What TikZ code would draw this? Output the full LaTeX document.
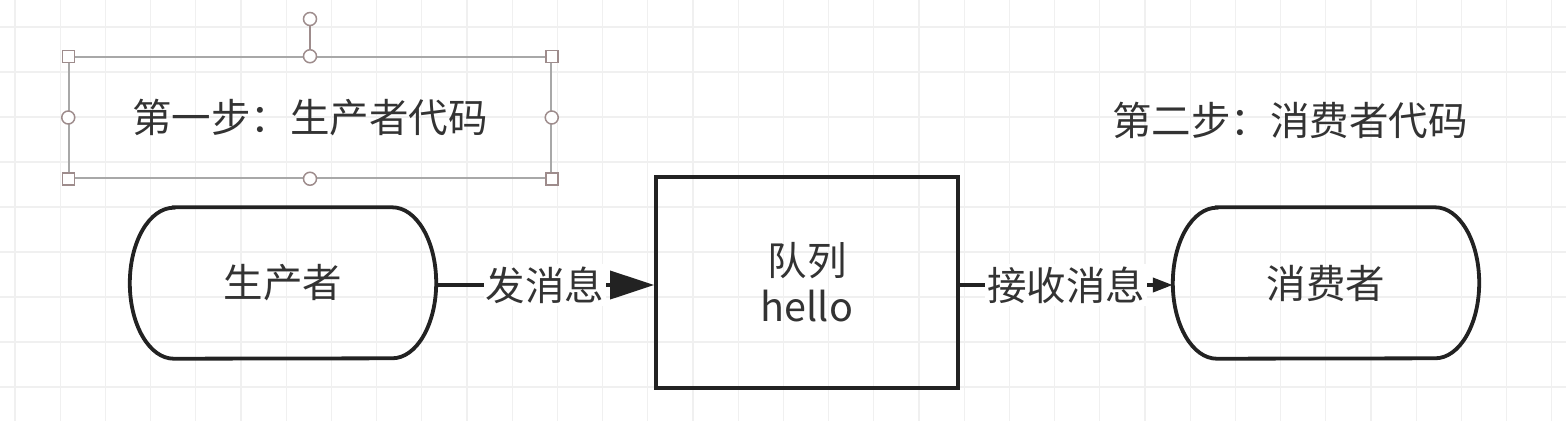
\documentclass[tikz,border=0pt]{standalone}
\usepackage{fontspec}
\setmainfont{Noto Sans CJK SC}
\usetikzlibrary{arrows.meta}
\definecolor{txt}{HTML}{333333}
\definecolor{edge}{HTML}{222222}
\definecolor{gridc}{HTML}{F0F0F0}
\definecolor{selc}{HTML}{A8A8A8}
\definecolor{handc}{HTML}{9E8C8C}
\tikzset{
  gridline/.style={draw=gridc, line width=1.3pt},
  txtstyle/.style={text=txt, font=\fontsize{39.5}{46}\selectfont, inner sep=0pt},
  stadiumbox/.style={draw=none, minimum width=306pt, minimum height=151pt, txtstyle},
  stadiumline/.style={draw=edge, line width=3.8pt},
  queuebox/.style={draw=edge, line width=3.8pt, minimum width=302pt, minimum height=211pt, txtstyle, align=center},
  conn/.style={draw=edge, line width=3.8pt},
  connlabel/.style={fill=white, txtstyle, inner xsep=2pt, inner ysep=3pt},
  selbox/.style={draw=selc, line width=1.5pt, minimum width=482pt, minimum height=121pt, txtstyle},
  sqhandle/.style={draw=handc, fill=white, line width=1.5pt, minimum size=12pt, inner sep=0pt},
  cirhandle/.style={draw=handc, fill=white, line width=1.5pt, circle, minimum size=13pt, inner sep=0pt}
}
\begin{document}
\begin{tikzpicture}[x=1pt, y=-1pt]
\useasboundingbox (0,0) rectangle (1566,421);
\fill[white] (0,0) rectangle (1566,421);
% grid
\foreach \i in {0,...,34} {\draw[gridline] (15+45.2*\i,0) -- (15+45.2*\i,421);}
\foreach \j in {0,...,8} {\draw[gridline] (0,27+45*\j) -- (1566,27+45*\j);}

% selection box with text
\node[selbox] (t1) at (310,117.5) {第一步：生产者代码};
\coordinate (roth) at (310,19);
\draw[draw=handc, line width=1.5pt] (t1.north) -- (roth);
\node[cirhandle] (hr) at (roth) {};
\node[sqhandle] (h1) at (t1.north west) {};
\node[sqhandle] (h2) at (t1.north east) {};
\node[sqhandle] (h3) at (t1.south west) {};
\node[sqhandle] (h4) at (t1.south east) {};
\node[cirhandle] (h5) at (t1.north) {};
\node[cirhandle] (h6) at (t1.south) {};
\node[cirhandle] (h7) at (t1.west) {};
\node[cirhandle] (h8) at (t1.east) {};

\node[txtstyle] (t2) at (1290,120) {第二步：消费者代码};

% producer
\node[stadiumbox] (p) at (283,283) {生产者};
\draw[stadiumline] ([xshift=44pt]p.north west) -- ([xshift=-44pt]p.north east)
  arc[start angle=-90, end angle=90, x radius=44, y radius=75.5]
  -- ([xshift=44pt]p.south west)
  arc[start angle=90, end angle=270, x radius=44, y radius=75.5] -- cycle;

% consumer
\node[stadiumbox] (c) at (1326,283) {消费者};
\draw[stadiumline] ([xshift=44pt]c.north west) -- ([xshift=-44pt]c.north east)
  arc[start angle=-90, end angle=90, x radius=44, y radius=75.5]
  -- ([xshift=44pt]c.south west)
  arc[start angle=90, end angle=270, x radius=44, y radius=75.5] -- cycle;

% queue
\node[queuebox] (q) at (807,282.5) {队列\\hello};

% connectors
\draw[conn, -{Triangle[length=44pt, width=28pt]}] (p.east |- 0,285) -- (q.west |- 0,285)
  node[connlabel, pos=0.5] (l1) {发消息};
\draw[conn, -{Triangle[length=20pt, width=14pt]}] (q.east |- 0,285) -- (c.west |- 0,285)
  node[connlabel, pos=0.5] (l2) {接收消息};
\end{tikzpicture}
\end{document}
